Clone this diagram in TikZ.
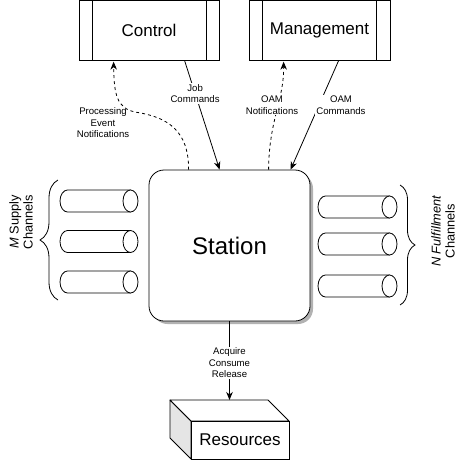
\documentclass[tikz,border=0pt]{standalone}
\usepackage{fontspec}
\setmainfont{Liberation Sans}
\usetikzlibrary{arrows.meta,decorations.pathreplacing,calc}

\newcommand\hcyl[3]{% #1 left x, #2 right x, #3 centre y
  \draw[fill=white] (#1+7.5,#3-11) -- (#2-7.5,#3-11) -- (#2-7.5,#3+11) -- (#1+7.5,#3+11)
    .. controls (#1+7.5-4.14,#3+11) and (#1,#3+6.07) .. (#1,#3)
    .. controls (#1,#3-6.07) and (#1+7.5-4.14,#3-11) .. (#1+7.5,#3-11) -- cycle;
  \draw[fill=white] (#2-7.5,#3) ellipse[x radius=7.5,y radius=11];
}

\begin{document}
\begin{tikzpicture}[x=1pt,y=-1pt,line width=0.8pt,
  lbl/.style={font=\fontsize{9.6}{11.5}\selectfont,align=center,fill=white,inner sep=1pt},
  lblnf/.style={font=\fontsize{9.6}{11.5}\selectfont,align=center,inner sep=1pt},
  procbox/.style={draw,minimum width=140pt,minimum height=59.5pt,inner sep=0pt,
    font=\fontsize{17}{20}\selectfont},
  arr/.style={-{Stealth[length=8pt,width=6.5pt,inset=2.5pt]}},
  dsh/.style={dash pattern=on 3pt off 3pt},
  brc/.style={decorate,decoration={brace,amplitude=#1}},
  chan/.style={font=\fontsize{12.8}{14}\selectfont,align=center,rotate=90}
]
\useasboundingbox (0,0) rectangle (463,461);

% top boxes
\node[procbox] (control) at (149,30.5) {Control};
\draw ($(control.north west)+(14,0)$) -- ($(control.south west)+(14,0)$);
\draw ($(control.north east)+(-13,0)$) -- ($(control.south east)+(-13,0)$);
\node[procbox,minimum width=141pt] (mgmt) at (319.5,30.5) {Management};
\draw ($(mgmt.north west)+(14,0)$) -- ($(mgmt.south west)+(14,0)$);
\draw ($(mgmt.north east)+(-14,0)$) -- ($(mgmt.south east)+(-14,0)$);

% station
\fill[black!30,rounded corners=15pt] (152.5,173.5) rectangle (313,324);
\node[draw,fill=white,rounded corners=15pt,minimum width=161pt,minimum height=151pt,
  inner sep=0pt,font=\fontsize{24}{28}\selectfont] (station) at (229.5,245.5) {Station};

% anchor points
\coordinate (st1) at ($(station.north west)+(40,0)$);
\coordinate (st2) at ($(station.north west)+(71,0)$);
\coordinate (st3) at ($(station.north west)+(120,0)$);
\coordinate (st4) at ($(station.north west)+(142,0)$);
\coordinate (cb1) at ($(control.south west)+(35,1)$);
\coordinate (cb2) at ($(control.south west)+(106,0)$);
\coordinate (mb1) at ($(mgmt.south west)+(35,1)$);
\coordinate (mb2) at ($(mgmt.south west)+(90,0)$);

% connectors
\draw[arr,dsh] (st1) .. controls (189,125) and (160,116) .. (135,112)
  .. controls (117,108) and (114,95) .. (cb1);
\node[lblnf] (pen) at (103,123) {Processing\\Event\\Notifications};
\draw[arr] (cb2) -- (st2) node[lbl,pos=0.3] (jc) {Job\\Commands};
\draw[arr,dsh] (st3) .. controls (269,120) and (284,100) .. (mb1);
\node[lbl] (oamn) at (272,105) {OAM\\Notifications};
\draw[arr] (mb2) -- (st4);
\node[lbl] (oamc) at (341,105) {OAM\\Commands};

% channels
\hcyl{60}{138}{201}
\hcyl{60}{138}{241.5}
\hcyl{60}{138}{282}
\hcyl{318}{397}{207}
\hcyl{318}{397}{244}
\hcyl{318}{397}{286}
\draw[brc=18pt] (58,300) -- (58,180);
\draw[brc=15pt] (400,185) -- (400,305);
\node[chan] (mlabel) at (21,222) {\textit{M} Supply\\Channels};
\node[chan] (nlabel) at (443,231) {\textit{N Fulfillment}\\Channels};

% resources
\draw[fill=black!10,line join=round] (170,400) -- (191,421) -- (191,459) -- (170,438) -- cycle;
\draw[fill=white,line join=round] (170,400) -- (268,400) -- (289,421) -- (191,421) -- cycle;
\node[draw,fill=white,minimum width=98pt,minimum height=38pt,inner sep=0pt,
  font=\fontsize{17}{20}\selectfont] (res) at (240,440) {Resources};
\coordinate (rtop) at (229.5,400);
\draw[arr] (station.south) -- (rtop) node[lbl,pos=0.53] (acr) {Acquire\\Consume\\Release};
\end{tikzpicture}
\end{document}
